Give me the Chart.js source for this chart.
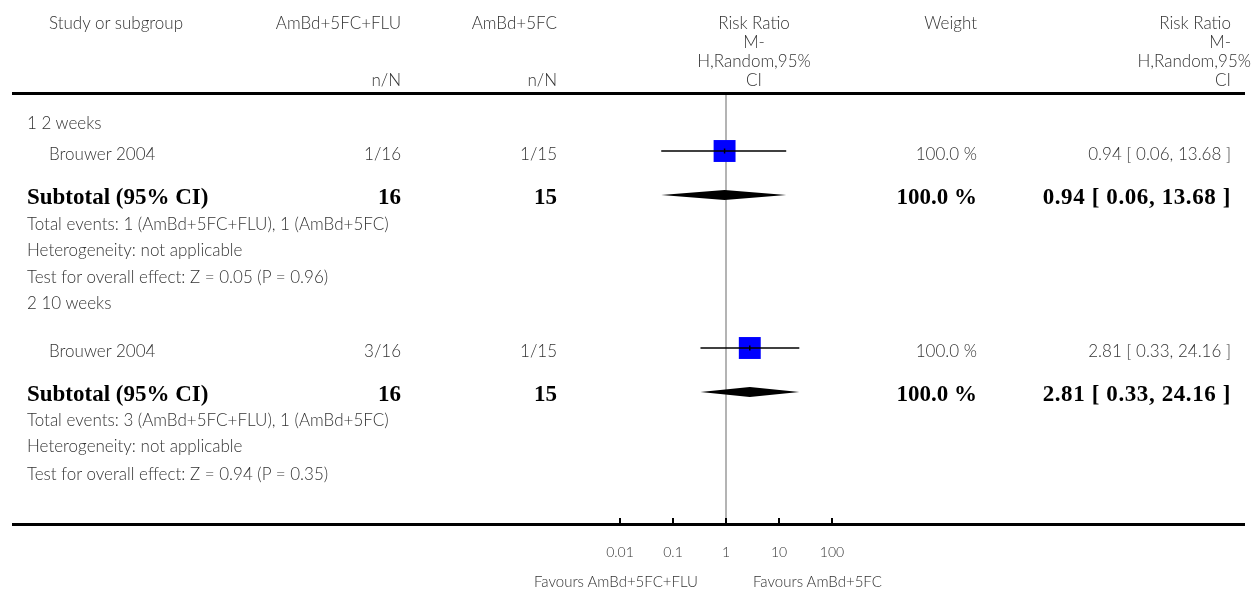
<!DOCTYPE html>
<html>
<head>
<meta charset="utf-8">
<script src="https://cdn.jsdelivr.net/npm/chart.js@4.4.1/dist/chart.umd.min.js"></script>
<style>
  html, body { margin: 0; padding: 0; background: #fff; }
  #wrap { position: relative; width: 1259px; height: 590px; overflow: hidden; }
  #forest { position: absolute; left: 0; top: 0; }
  .t { position: absolute; white-space: nowrap; font-family: 'Lato', sans-serif; font-weight: 300;
       font-size: 17px; line-height: 20px; color: #333; }
  .b { font-family: 'Liberation Serif', serif; font-weight: bold; font-size: 23px; line-height: 26px; color: #000; }
  .s { font-size: 15px; }
  .w { letter-spacing: 0.6px; }
</style>
</head>
<body>
<div id="wrap"><canvas id="forest" width="1259" height="590"></canvas></div>
<script>
// Data
const subgroups = ['1 2 weeks', '2 10 weeks'];
const studyNames = ['Brouwer 2004', 'Brouwer 2004'];
const armLabels = ['AmBd+5FC+FLU', 'AmBd+5FC'];
const eventsFlu = [1, 3];
const totalFlu = [16, 16];
const eventsCtl = [1, 1];
const totalCtl = [15, 15];
const riskRatio = [0.94, 2.81];
const ciLower = [0.06, 0.33];
const ciUpper = [13.68, 24.16];
const weights = [100.0, 100.0];
const pooledRR = [0.94, 2.81];
const pooledLower = [0.06, 0.33];
const pooledUpper = [13.68, 24.16];
const zValues = ['0.05', '0.94'];
const pValues = ['0.96', '0.35'];
const xTicks = [0.01, 0.1, 1, 10, 100];
const tickLabels = ['0.01', '0.1', '1', '10', '100'];
const favourLabels = ['Favours AmBd+5FC+FLU', 'Favours AmBd+5FC'];

// Layout (page pixels)
const W = 1259, H = 590;
const plotTop = 93, plotBottom = 518;
const rows = [
    { head: 123, study: 151, subtotal: 195, total: 224, het: 250, test: 277 },
    { head: 303, study: 348, subtotal: 392, total: 420, het: 446, test: 474 }
];
const headerRows = [23, 42, 61, 80];
const colIndent0 = 27, colIndent1 = 49;
const colFluRight = 401, colCtlRight = 557;
const colWeightRight = 977, colRRRight = 1231;

// pooled diamonds and the two horizontal rules
const forestPlugin = {
    id: 'forest',
    afterDatasetsDraw(chart) {
        const c = chart.ctx;
        const xs = chart.scales.x, ys = chart.scales.y;
        c.save();
        c.fillStyle = '#000';
        pooledRR.forEach((rr, i) => {
            const yc = ys.getPixelForValue(rows[i].subtotal);
            c.beginPath();
            c.moveTo(xs.getPixelForValue(pooledLower[i]), yc);
            c.lineTo(xs.getPixelForValue(rr), yc - 5);
            c.lineTo(xs.getPixelForValue(pooledUpper[i]), yc);
            c.lineTo(xs.getPixelForValue(rr), yc + 5);
            c.closePath();
            c.fill();
        });
        c.fillRect(12, plotTop - 1, 1233, 3);
        c.fillRect(12, plotBottom + 5, 1233, 3);
        c.restore();
    }
};

const datasets = [];
riskRatio.forEach((rr, i) => {
    datasets.push({
        data: [{ x: ciLower[i], y: rows[i].study }, { x: ciUpper[i], y: rows[i].study }],
        showLine: true, borderColor: '#000', borderWidth: 1.5, pointRadius: 0, order: 1
    });
});
datasets.push({
    data: riskRatio.map((rr, i) => ({ x: rr, y: rows[i].study })),
    pointStyle: 'rect',
    pointRadius: weights.map(w => 15.5 * Math.sqrt(w / 100)),
    backgroundColor: '#0000ff', borderWidth: 0, order: 2
});
datasets.push({
    data: riskRatio.map((rr, i) => ({ x: rr, y: rows[i].study })),
    pointStyle: 'line', rotation: 90, pointRadius: 2.5,
    borderColor: '#000', borderWidth: 1.5, order: 0
});

const chart = new Chart(document.getElementById('forest'), {
    type: 'scatter',
    data: { datasets: datasets },
    options: {
        responsive: false,
        animation: false,
        devicePixelRatio: 1,
        events: [],
        layout: { padding: { left: 620, right: W - 832, top: plotTop, bottom: 0 } },
        plugins: { legend: { display: false }, tooltip: { enabled: false } },
        scales: {
            x: {
                type: 'logarithmic',
                min: 0.01,
                max: 100,
                afterBuildTicks: s => { s.ticks = xTicks.map(v => ({ value: v })); },
                afterFit: s => { s.height = H - plotBottom; },
                border: { display: false },
                grid: {
                    color: c => (c.tick && c.tick.value === 1) ? '#b4b4b4' : 'rgba(0,0,0,0)',
                    lineWidth: 2,
                    tickLength: 5,
                    tickColor: '#000',
                    tickWidth: 2
                },
                ticks: {
                    callback: (v, i) => tickLabels[i],
                    font: { family: 'Lato', size: 14, weight: '300' },
                    color: '#333',
                    padding: 21,
                    maxRotation: 0,
                    autoSkip: false
                }
            },
            y: { type: 'linear', display: false, reverse: true, min: plotTop, max: plotBottom }
        }
    },
    plugins: [forestPlugin]
});

// table text
const wrap = document.getElementById('wrap');
function addText(str, x, y, align, cls) {
    const d = document.createElement('div');
    d.className = 't' + (cls ? ' ' + cls : '');
    d.textContent = str;
    const lh = (cls && cls.indexOf('b') === 0) ? 26 : 20;
    d.style.top = (y - lh / 2) + 'px';
    if (align === 'right') d.style.right = (W - x) + 'px';
    else if (align === 'center') { d.style.left = x + 'px'; d.style.transform = 'translateX(-50%)'; }
    else d.style.left = x + 'px';
    wrap.appendChild(d);
}
const fmt = v => v.toFixed(2);
const rrText = (m, lo, hi) => fmt(m) + ' [ ' + fmt(lo) + ', ' + fmt(hi) + ' ]';

const xs = chart.scales.x, ys = chart.scales.y;
const refX = xs.getPixelForValue(1);
const rrHead = ['Risk Ratio', 'M-', 'H,Random,95%', 'CI'];

addText('Study or subgroup', colIndent1, headerRows[0], 'left');
addText(armLabels[0], colFluRight, headerRows[0], 'right');
addText('n/N', colFluRight, headerRows[3], 'right');
addText(armLabels[1], colCtlRight, headerRows[0], 'right');
addText('n/N', colCtlRight, headerRows[3], 'right');
rrHead.forEach((s, k) => addText(s, refX + 28, headerRows[k], 'center'));
addText('Weight', colWeightRight, headerRows[0], 'right');
rrHead.forEach((s, k) => addText(s, colRRRight + (k === 2 ? 20 : 0), headerRows[k], 'right'));

subgroups.forEach((g, i) => {
    const r = rows[i];
    const yp = v => ys.getPixelForValue(v);
    addText(g, colIndent0, yp(r.head), 'left');
    addText(studyNames[i], colIndent1, yp(r.study) + 3, 'left');
    addText(eventsFlu[i] + '/' + totalFlu[i], colFluRight, yp(r.study) + 3, 'right');
    addText(eventsCtl[i] + '/' + totalCtl[i], colCtlRight, yp(r.study) + 3, 'right');
    addText(weights[i].toFixed(1) + ' %', colWeightRight, yp(r.study) + 3, 'right');
    addText(rrText(riskRatio[i], ciLower[i], ciUpper[i]), colRRRight, yp(r.study) + 3, 'right');
    addText('Subtotal (95% CI)', colIndent0, yp(r.subtotal) + 2, 'left', 'b');
    addText(String(totalFlu[i]), colFluRight, yp(r.subtotal) + 2, 'right', 'b');
    addText(String(totalCtl[i]), colCtlRight, yp(r.subtotal) + 2, 'right', 'b');
    addText(weights[i].toFixed(1) + ' %', colWeightRight, yp(r.subtotal) + 2, 'right', 'b');
    addText(rrText(pooledRR[i], pooledLower[i], pooledUpper[i]), colRRRight, yp(r.subtotal) + 2, 'right', 'b w');
    addText('Total events: ' + eventsFlu[i] + ' (' + armLabels[0] + '), ' + eventsCtl[i] + ' (' + armLabels[1] + ')',
        colIndent0, yp(r.total), 'left');
    addText('Heterogeneity: not applicable', colIndent0, yp(r.het), 'left');
    addText('Test for overall effect: Z = ' + zValues[i] + ' (P = ' + pValues[i] + ')', colIndent0, yp(r.test), 'left');
});

addText(favourLabels[0], refX - 28, 581, 'right', 's');
addText(favourLabels[1], refX + 27, 581, 'left', 's');
</script>
</body>
</html>
